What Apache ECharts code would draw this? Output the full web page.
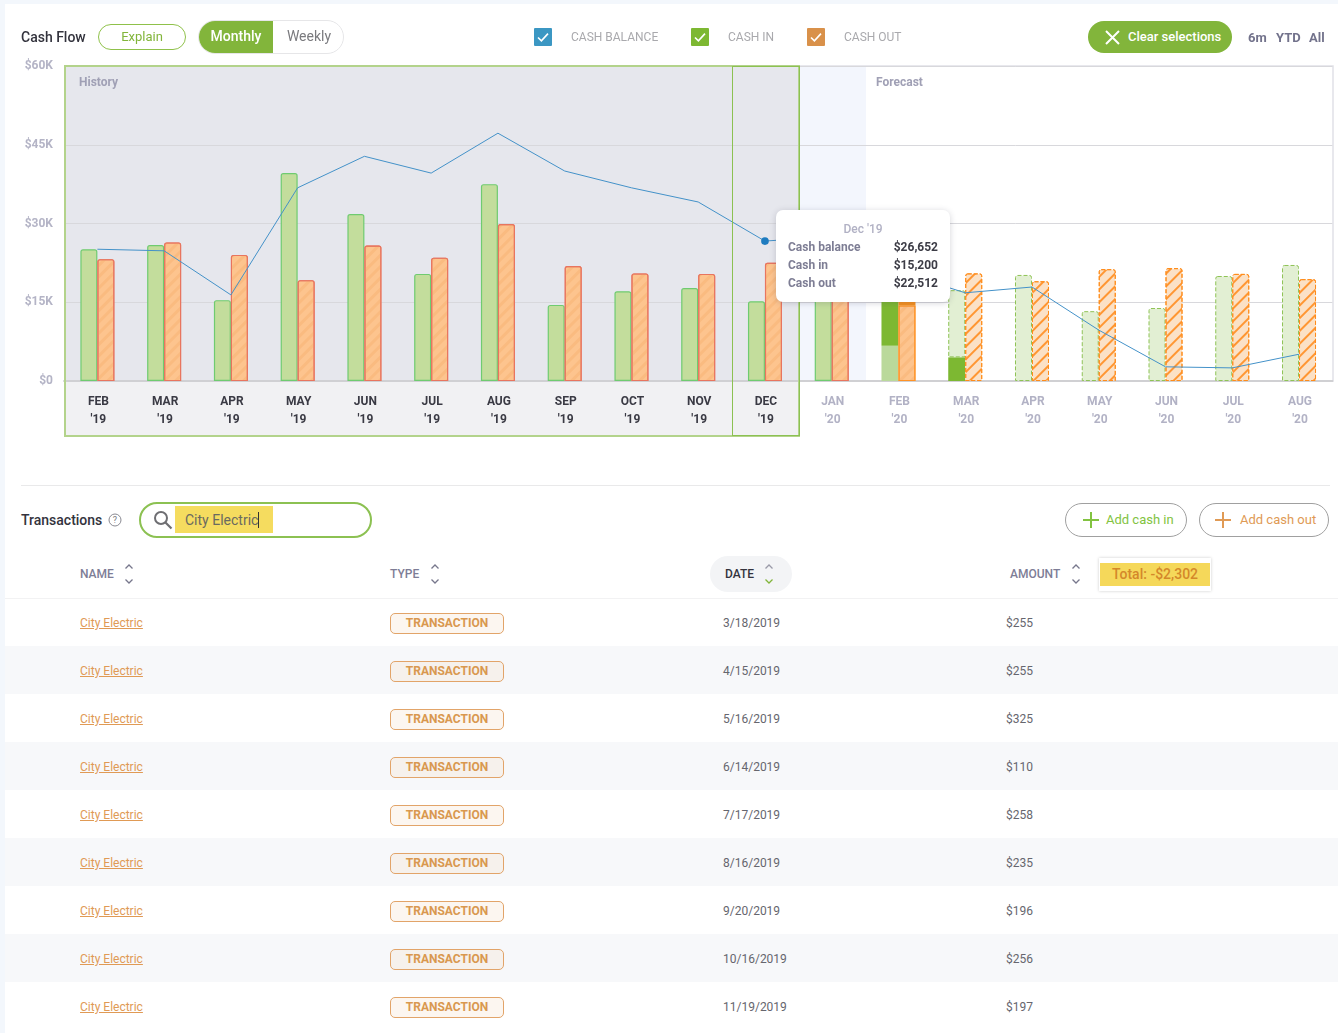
<!DOCTYPE html>
<html>
<head>
<meta charset="utf-8">
<title>Cash Flow</title>
<script src="https://cdn.jsdelivr.net/npm/echarts@6/dist/echarts.min.js"></script>
<style>
  html, body { margin: 0; padding: 0; }
  body { width: 1338px; height: 1033px; overflow: hidden; position: relative; background: #f3f7fc; font-family: Roboto, sans-serif; color: #333; }
  .panel { position: absolute; left: 5px; top: 4px; width: 1333px; height: 1029px; background: #fff; }
  #chart { position: absolute; left: 0; top: 0; width: 1338px; height: 450px; }
  .abs { position: absolute; white-space: nowrap; }
  .title { font-size: 14px; font-weight: 500; color: #33333d; line-height: 20px; }
  .pill { box-sizing: border-box; border-radius: 20px; text-align: center; }
  .check { width: 18px; height: 18px; border-radius: 1px; }
  .legend { font-size: 12px; color: #a9a9ad; line-height: 16px; top: 29px; }
  .range { font-size: 13px; font-weight: 700; color: #73738c; line-height: 16px; top: 30px; }
  .head { font-size: 12px; font-weight: 500; color: #7d7d96; line-height: 16px; top: 566px; }
  .row { position: absolute; left: 5px; width: 1333px; height: 48px; }
  .row .cell { position: absolute; top: 17px; font-size: 12px; line-height: 16px; color: #66666e; white-space: nowrap; }
  .row a { color: #e09a55; text-decoration: underline; }
  .badge { position: absolute; left: 385px; top: 15px; box-sizing: border-box; width: 114px; height: 21px; border: 1px solid #e2a469; border-radius: 5px; background: #fcf6f0; color: #d9984f; font-size: 12px; font-weight: 700; line-height: 18px; text-align: center; }
  .row.alt { background: #f7f8fa; }
  .row.alt .badge { background: #f6f1ec; }
</style>
</head>
<body>
<div class="panel"></div>
<div id="chart"></div>
<div id="ui"></div>
<script>
const categories = ["FEB\n'19", "MAR\n'19", "APR\n'19", "MAY\n'19", "JUN\n'19", "JUL\n'19", "AUG\n'19", "SEP\n'19", "OCT\n'19", "NOV\n'19", "DEC\n'19", "JAN\n'20", "FEB\n'20", "MAR\n'20", "APR\n'20", "MAY\n'20", "JUN\n'20", "JUL\n'20", "AUG\n'20"]
const cashBalance = [25100, 24800, 16400, 36800, 42800, 39600, 47200, 40000, 36800, 34100, 26652, 27500, 20800, 16800, 17900, 9700, 2700, 2500, 5100]
const cashIn = [25100, 25900, 15400, 39600, 31800, 20400, 37500, 14500, 17100, 17700, 15200, 20000, 6700, null, 20200, 13300, 13900, 20000, 22100]
const cashInActual = [null, null, null, null, null, null, null, null, null, null, null, null, 10600, 4500, null, null, null, null, null]
const cashInRest = [null, null, null, null, null, null, null, null, null, null, null, null, null, 12800, null, null, null, null, null]
const cashOut = [23200, 26400, 24000, 19200, 25800, 23500, 29900, 21900, 20500, 20400, 22512, 20000, 14400, 20500, 19000, 21300, 21500, 20400, 19400]
const cashOutActual = [null, null, null, null, null, null, null, null, null, null, null, null, 1200, null, null, null, null, null, null]
const yTicks = [0, 15000, 30000, 45000, 60000]
const txNames = ['City Electric', 'City Electric', 'City Electric', 'City Electric', 'City Electric', 'City Electric', 'City Electric', 'City Electric', 'City Electric']
const txDates = ['3/18/2019', '4/15/2019', '5/16/2019', '6/14/2019', '7/17/2019', '8/16/2019', '9/20/2019', '10/16/2019', '11/19/2019']
const txAmounts = ['$255', '$255', '$325', '$110', '$258', '$235', '$196', '$256', '$197']

const selectedIndex = 10
const lastHistory = 11 // Jan '20 still drawn like the history bars
const forecastStart = 12

const softHatch = { symbol: 'rect', color: 'rgba(244,172,108,0.4)', dashArrayX: [1, 0], dashArrayY: [3, 5], rotation: -Math.PI / 4 }
const strongHatch = { symbol: 'rect', color: '#ff9632', dashArrayX: [1, 0], dashArrayY: [2, 7], rotation: -Math.PI / 4 }

function inStyle (i) {
  if (i <= lastHistory) return { color: '#c3dd9c', borderColor: '#6fcb70', borderWidth: 1.2, borderRadius: [2, 2, 0, 0] }
  if (i === forecastStart) return { color: '#bad99b', borderWidth: 0 }
  return { color: '#e2efd3', borderColor: '#8fc356', borderWidth: 1, borderType: 'dashed', borderRadius: [2, 2, 0, 0] }
}

function outStyle (i) {
  if (i <= lastHistory) {
    return { color: '#fdc48e', borderColor: '#e8755f', borderWidth: 1.1, borderRadius: [2, 2, 0, 0], decal: softHatch }
  }
  if (i === forecastStart) {
    return { color: '#fdc48e', borderColor: '#ff9326', borderWidth: 1.1, decal: softHatch }
  }
  return { color: '#fbe1c6', borderColor: '#ff8c1a', borderWidth: 1, borderType: 'dashed', borderRadius: [2, 2, 0, 0], decal: strongHatch }
}

function barItems (values, styleFn) {
  return values.map((v, i) => (v === null ? null : { value: v, itemStyle: styleFn(i) }))
}

const barBase = { type: 'bar', barWidth: 17, barGap: 0, emphasis: { disabled: true }, animation: false }

const myChart = echarts.init(document.getElementById('chart'))
const option = {
  animation: false,
  grid: { left: 64, right: 5.6, top: 66, bottom: 69 },
  graphic: { elements: [
    { type: 'rect', z: -5, shape: { x: 65, y: 66, width: 734, height: 315 }, style: { fill: '#e6e7ed' } },
    { type: 'rect', z: -5, shape: { x: 65, y: 381, width: 734, height: 55 }, style: { fill: '#f1f1f3' } },
    { type: 'rect', z: -5, shape: { x: 799, y: 66, width: 67, height: 315 }, style: { fill: '#f3f6fd' } },
    { type: 'rect', z: -4, shape: { x: 799, y: 66, width: 534, height: 315 }, style: { fill: 'none', stroke: '#e1e1e7', lineWidth: 1.5 } },
    { type: 'rect', z: 50, shape: { x: 65, y: 66, width: 734, height: 370 }, style: { fill: 'none', stroke: '#b3d38b', lineWidth: 2 } },
    { type: 'line', z: 51, shape: { x1: 732.5, y1: 66, x2: 732.5, y2: 436 }, style: { stroke: '#8cc152', lineWidth: 1 } },
    { type: 'line', z: 51, shape: { x1: 732, y1: 66.5, x2: 799.5, y2: 66.5 }, style: { stroke: '#8cc152', lineWidth: 1 } },
    { type: 'line', z: 51, shape: { x1: 799.5, y1: 66, x2: 799.5, y2: 436 }, style: { stroke: '#8cc152', lineWidth: 1 } },
    { type: 'line', z: 51, shape: { x1: 732, y1: 435.5, x2: 799.5, y2: 435.5 }, style: { stroke: '#8cc152', lineWidth: 1 } },
    { type: 'text', z: 52, x: 79, y: 77, style: { text: 'History', font: '700 12px Roboto', fill: '#a0a0b5' } },
    { type: 'text', z: 52, x: 876, y: 77, style: { text: 'Forecast', font: '700 12px Roboto', fill: '#a0a0b5' } }
  ] },
  tooltip: {
    trigger: 'axis',
    alwaysShowContent: true,
    transitionDuration: 0,
    axisPointer: { type: 'none' },
    position: () => [776, 210],
    padding: 0,
    borderWidth: 0,
    backgroundColor: '#fff',
    extraCssText: 'box-shadow:0 1px 6px rgba(60,60,80,.22);border-radius:7px;',
    formatter: (params) => {
      const i = params[0].dataIndex
      const parts = categories[i].split('\n')
      const title = parts[0][0] + parts[0].slice(1).toLowerCase() + ' ' + parts[1]
      const rows = [['Cash balance', cashBalance[i]], ['Cash in', cashIn[i]], ['Cash out', cashOut[i]]]
      let temp = `<div style="box-sizing:border-box;width:174px;height:92px;padding:10px 12px 0;font:700 12px/18px Roboto;">
        <div style="text-align:center;color:#b1b1c4;font-weight:500;">${title}</div>`
      rows.forEach(r => {
        temp += `<div style="display:flex;justify-content:space-between;"><span style="color:#7d7d94;">${r[0]}</span><span style="color:#3c3c46;">$${r[1].toLocaleString('en-US')}</span></div>`
      })
      return temp + '</div>'
    }
  },
  xAxis: {
    type: 'category',
    data: categories,
    axisTick: { show: false },
    axisLine: { lineStyle: { color: '#d0d0d3', width: 2 } },
    axisLabel: {
      interval: 0,
      margin: 12,
      padding: [0, 0, 0, 2],
      fontFamily: 'Roboto',
      fontSize: 12,
      fontWeight: 700,
      lineHeight: 18,
      color: (value, index) => (index <= selectedIndex ? '#3a3a44' : '#b2b2c5')
    }
  },
  yAxis: {
    type: 'value',
    min: yTicks[0],
    max: yTicks[yTicks.length - 1],
    interval: yTicks[1] - yTicks[0],
    axisLine: { show: false },
    axisTick: { show: false },
    splitLine: { lineStyle: { color: '#d8d8dc', width: 1 } },
    axisLabel: {
      margin: 11,
      padding: [4, 0, 0, 0],
      fontFamily: 'Roboto',
      fontSize: 12,
      fontWeight: 700,
      color: '#b4b4c6',
      formatter: v => (v === 0 ? '$0' : '$' + v / 1000 + 'K')
    }
  },
  series: [
    Object.assign({}, barBase, { name: 'Cash in', stack: 'in', data: barItems(cashIn, inStyle) }),
    Object.assign({}, barBase, { name: 'Cash in actual', stack: 'in', itemStyle: { color: '#7db832' }, data: cashInActual }),
    Object.assign({}, barBase, { name: 'Cash in rest', stack: 'in', data: barItems(cashInRest, inStyle) }),
    Object.assign({}, barBase, { name: 'Cash out', stack: 'out', data: barItems(cashOut, outStyle) }),
    Object.assign({}, barBase, { name: 'Cash out actual', stack: 'out', itemStyle: { color: '#f5901f' }, data: cashOutActual }),
    {
      name: 'Cash balance',
      type: 'line',
      z: 5,
      data: cashBalance,
      showAllSymbol: true,
      symbol: 'circle',
      symbolSize: (v, p) => (p.dataIndex === selectedIndex ? 7 : 0),
      itemStyle: { color: '#1f7cc0' },
      lineStyle: { color: '#4492c9', width: 1 },
      emphasis: { disabled: true }
    }
  ]
}
myChart.setOption(option)
myChart.dispatchAction({ type: 'showTip', seriesIndex: 5, dataIndex: selectedIndex })

// toolbar, search and table are plain dom around the chart
function box (left, top, width, height, style, inner) {
  return `<div class="abs" style="left:${left}px;top:${top}px;width:${width}px;height:${height}px;${style}">${inner || ''}</div>`
}
function tick () {
  return '<svg width="18" height="18" viewBox="0 0 18 18" style="display:block"><path d="M4 9.5l3.4 3.4L14 5.6" fill="none" stroke="#fff" stroke-width="1.6"/></svg>'
}
function sortIcon (left, top, upColor, downColor) {
  return `<svg class="abs" style="left:${left}px;top:${top}px" width="12" height="24" viewBox="0 0 12 24">
    <path d="M2.5 6.5L6 3l3.5 3.5" fill="none" stroke="${upColor}" stroke-width="1.3"/>
    <path d="M2.5 17.5L6 21l3.5-3.5" fill="none" stroke="${downColor}" stroke-width="1.3"/></svg>`
}
function plusIcon (left, top, color) {
  return `<svg class="abs" style="left:${left}px;top:${top}px" width="16" height="16" viewBox="0 0 16 16"><path d="M8 0v16M0 8h16" stroke="${color}" stroke-width="2"/></svg>`
}

let temp = ''
temp += `<div class="abs title" style="left:21px;top:27px;">Cash Flow</div>`
temp += box(98, 24, 88, 26, 'box-sizing:border-box;border:1px solid #8fc14a;border-radius:14px;text-align:center;font-size:13px;line-height:24px;color:#82b53b;', 'Explain')
temp += box(198, 20, 146, 34, 'box-sizing:border-box;border:1px solid #e6e6e8;border-radius:17px;')
temp += box(199, 21, 74, 32, 'background:#82b53b;border-radius:16px 0 0 16px;text-align:center;color:#fff;font-size:14px;font-weight:500;line-height:30px;', 'Monthly')
temp += box(274, 21, 70, 32, 'text-align:center;color:#7a7a7e;font-size:14px;line-height:30px;', 'Weekly')
temp += box(534, 28, 18, 18, 'background:#3b97c3;border-radius:1px;', tick())
temp += `<div class="abs legend" style="left:571px;">CASH BALANCE</div>`
temp += box(691, 28, 18, 18, 'background:#7db832;border-radius:1px;', tick())
temp += `<div class="abs legend" style="left:728px;">CASH IN</div>`
temp += box(807, 28, 18, 18, 'background:#d9914a;border-radius:1px;', tick())
temp += `<div class="abs legend" style="left:844px;">CASH OUT</div>`
temp += box(1088, 21, 144, 32, 'background:#82b53b;border-radius:16px;color:#fff;font-size:13px;font-weight:500;line-height:32px;text-indent:40px;', 'Clear selections')
temp += `<svg class="abs" style="left:1105px;top:30px" width="15" height="15" viewBox="0 0 15 15"><path d="M1 1l13 13M14 1L1 14" stroke="#fff" stroke-width="2"/></svg>`
temp += `<div class="abs range" style="left:1248px;">6m</div><div class="abs range" style="left:1276px;">YTD</div><div class="abs range" style="left:1309px;">All</div>`

temp += box(21, 485, 1309, 1, 'background:#e9e9ea;')
temp += `<div class="abs title" style="left:21px;top:510px;">Transactions</div>`
temp += `<svg class="abs" style="left:108px;top:513px" width="14" height="14" viewBox="0 0 14 14"><circle cx="7" cy="7" r="6" fill="none" stroke="#8a8a92" stroke-width="1"/></svg>`
temp += `<div class="abs" style="left:108px;top:513px;width:14px;text-align:center;font-size:9px;line-height:14px;color:#7a7a82;">?</div>`
temp += box(139, 502, 233, 36, 'box-sizing:border-box;border:2px solid #8cc152;border-radius:18px;')
temp += `<svg class="abs" style="left:153px;top:510px" width="20" height="20" viewBox="0 0 20 20"><circle cx="8" cy="8" r="6" fill="none" stroke="#6e6e72" stroke-width="2"/><path d="M12.5 12.5L18.5 18.5" stroke="#6e6e72" stroke-width="2.2"/></svg>`
temp += box(175, 506, 98, 27, 'background:#f5dc5f;font-size:14px;line-height:29px;color:#6a6a60;text-indent:10px;', 'City Electric<span style="border-left:1px solid #333;"></span>')
temp += box(1065, 503, 122, 34, 'box-sizing:border-box;border:1px solid #a0a0a0;border-radius:17px;font-size:13px;line-height:32px;color:#82c341;text-indent:40px;', 'Add cash in')
temp += plusIcon(1082.5, 512, '#82c341')
temp += box(1199, 503, 130, 34, 'box-sizing:border-box;border:1px solid #a0a0a0;border-radius:17px;font-size:13px;line-height:32px;color:#e09a55;text-indent:40px;', 'Add cash out')
temp += plusIcon(1215, 512, '#e09a55')

temp += `<div class="abs head" style="left:80px;">NAME</div>` + sortIcon(123, 562, '#77778c', '#77778c')
temp += `<div class="abs head" style="left:390px;">TYPE</div>` + sortIcon(429, 562, '#77778c', '#77778c')
temp += box(710, 556, 82, 36, 'background:#f3f4f6;border-radius:18px;')
temp += `<div class="abs head" style="left:725px;color:#33333d;">DATE</div>` + sortIcon(763, 562, '#9a9aa8', '#82b53b')
temp += `<div class="abs head" style="left:1010px;">AMOUNT</div>` + sortIcon(1070, 562, '#77778c', '#77778c')
temp += box(1099, 558, 112, 33, 'box-sizing:border-box;background:#fff;box-shadow:0 0 3px rgba(0,0,0,.2);')
temp += box(1100, 563, 110, 23, 'background:#f5d85a;text-align:center;font-size:14px;font-weight:500;line-height:23px;color:#d4882a;', 'Total: -$2,302')
temp += box(5, 598, 1333, 1, 'background:#f2f2f3;')

txNames.forEach((name, i) => {
  temp += `<div class="row${i % 2 ? ' alt' : ''}" style="top:${598 + i * 48}px;">
    <div class="cell" style="left:75px;"><a>${name}</a></div>
    <div class="badge">TRANSACTION</div>
    <div class="cell" style="left:718px;">${txDates[i]}</div>
    <div class="cell" style="left:1001px;">${txAmounts[i]}</div>
  </div>`
})
document.getElementById('ui').innerHTML = temp
</script>
</body>
</html>
